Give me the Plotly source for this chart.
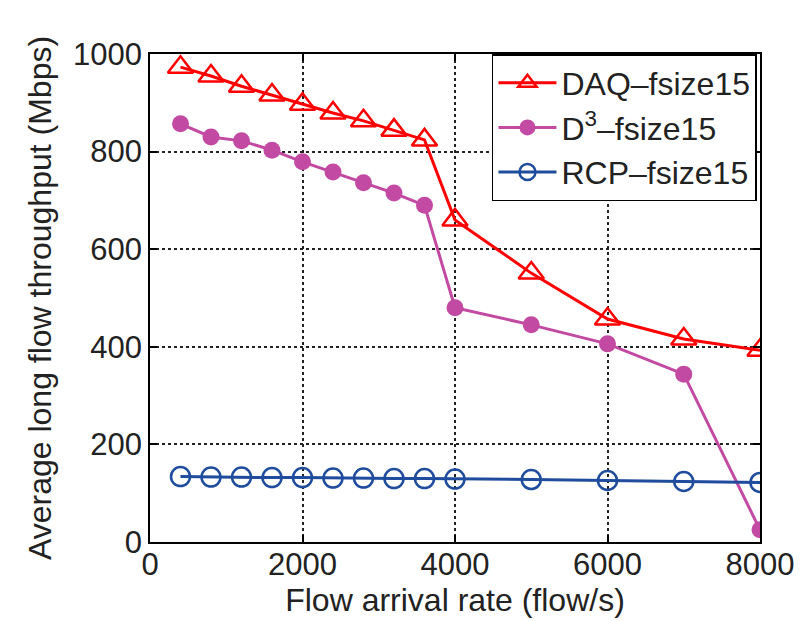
import plotly.graph_objects as go

x_rate = [400, 800, 1200, 1600, 2000, 2400, 2800, 3200, 3600, 4000, 5000, 6000, 7000, 8000]
daq = [973, 955, 934, 916, 897, 879, 863, 844, 824, 660, 551, 457, 416, 393]
d3 = [857, 830, 822, 803, 779, 758, 736, 715, 690, 480, 445, 406, 344, 25]
rcp = [134, 133, 133, 132, 132, 131, 131, 130, 130, 129, 128, 126, 124, 122]

names = ["DAQ–fsize15", "D<sup>3</sup>–fsize15", "RCP–fsize15"]
x_ticks = [0, 2000, 4000, 6000, 8000]
y_ticks = [0, 200, 400, 600, 800, 1000]

FONT = "Liberation Sans, Arial, sans-serif"

fig = go.Figure()
fig.add_trace(go.Scatter(x=x_rate, y=daq, name=names[0], mode="lines+markers", legendgroup="a",
                         line=dict(color="#FF0000", width=3),
                         marker=dict(symbol="triangle-up-open", size=22, color="#FF0000",
                                     line=dict(width=2.5, color="#FF0000"))))
fig.add_trace(go.Scatter(x=x_rate, y=d3, name=names[1], mode="lines+markers", legendgroup="b",
                         line=dict(color="#C24AA2", width=3),
                         marker=dict(symbol="circle", size=17, color="#C24AA2",
                                     line=dict(width=0))))
fig.add_trace(go.Scatter(x=x_rate, y=rcp, name=names[2], mode="lines+markers", legendgroup="c",
                         line=dict(color="#1F4C9C", width=3),
                         marker=dict(symbol="circle-open", size=19, color="#1F4C9C",
                                     line=dict(width=2.5, color="#1F4C9C"))))

axis_common = dict(showline=True, linecolor="black", linewidth=1.5, mirror="allticks",
                   ticks="inside", ticklen=7, tickwidth=1.5, tickcolor="black",
                   showgrid=True, gridcolor="#222", gridwidth=1.5, griddash="dot",
                   zeroline=False, automargin=False,
                   tickfont=dict(family=FONT, size=31, color="#222"),
                   title_font=dict(family=FONT, size=32, color="#222"))

fig.update_xaxes(range=[0, 8000], tickvals=x_ticks, title_text="Flow arrival rate (flow/s)",
                 title_standoff=0, ticklabelstandoff=-6, **axis_common)
fig.update_yaxes(range=[0, 1000], tickvals=y_ticks, title_text="Average long flow throughput (Mbps)",
                 title_standoff=12, **axis_common)

fig.update_layout(
    width=807, height=621,
    margin=dict(l=150, r=47, t=54, b=79),
    paper_bgcolor="white", plot_bgcolor="white",
    showlegend=True,
    legend=dict(x=0.995, xanchor="right", y=1, yanchor="top",
                bordercolor="black", borderwidth=1.5, bgcolor="white",
                font=dict(family=FONT, size=32, color="#222"),
                itemwidth=58, tracegroupgap=0),
)

fig.write_html("out.html")
